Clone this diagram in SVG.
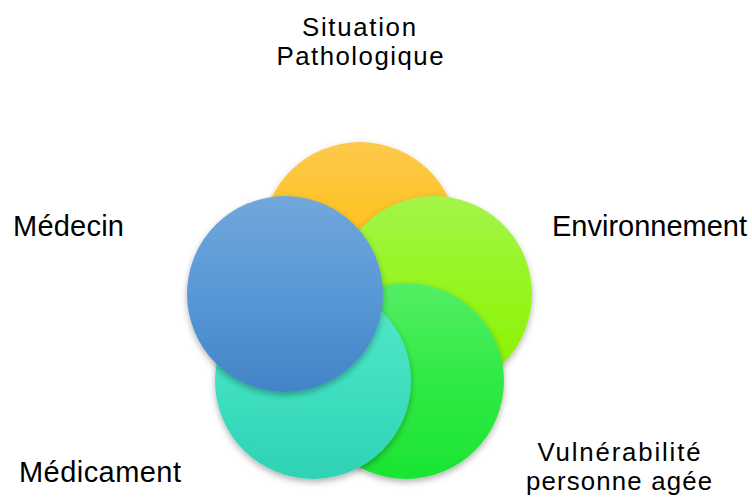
<svg xmlns="http://www.w3.org/2000/svg" width="752" height="503" viewBox="0 0 752 503">
<style>
  .lbl { font-family: "Liberation Sans", Arial, sans-serif; font-size: 29px; fill: #000; }
  .lbl2 { font-family: "Liberation Sans", Arial, sans-serif; font-size: 25.8px; fill: #000; }
</style>
<defs>
  <linearGradient id="gOrange" x1="0" y1="0" x2="0" y2="1">
    <stop offset="0" stop-color="#FEC94C"/><stop offset="0.5" stop-color="#FEC11A"/><stop offset="1" stop-color="#FDBE00"/>
  </linearGradient>
  <linearGradient id="gLime" x1="0" y1="0" x2="0" y2="1">
    <stop offset="0" stop-color="#A3F54A"/><stop offset="0.5" stop-color="#95F51C"/><stop offset="1" stop-color="#89F200"/>
  </linearGradient>
  <linearGradient id="gGreen" x1="0" y1="0" x2="0" y2="1">
    <stop offset="0" stop-color="#55EE64"/><stop offset="0.5" stop-color="#2FEA45"/><stop offset="1" stop-color="#1BE432"/>
  </linearGradient>
  <linearGradient id="gTeal" x1="0" y1="0" x2="0" y2="1">
    <stop offset="0" stop-color="#55E8C9"/><stop offset="0.5" stop-color="#40E0C1"/><stop offset="1" stop-color="#2FD2B4"/>
  </linearGradient>
  <linearGradient id="gBlue" x1="0" y1="0" x2="0" y2="1">
    <stop offset="0" stop-color="#72A7DB"/><stop offset="0.5" stop-color="#5898D6"/><stop offset="1" stop-color="#4284C6"/>
  </linearGradient>
  <filter id="shadow" x="-20%" y="-20%" width="140%" height="150%">
    <feDropShadow dx="0" dy="3" stdDeviation="3" flood-color="#000" flood-opacity="0.3"/>
  </filter>
</defs>
<g id="connectors"></g>
<g id="node-situation">
  <circle cx="360" cy="240" r="98" fill="url(#gOrange)" filter="url(#shadow)"/>
  <text class="lbl2" x="359" y="36" text-anchor="middle" textLength="114">Situation</text>
  <text class="lbl2" x="360" y="65" text-anchor="middle" textLength="167">Pathologique</text>
</g>
<g id="node-environnement">
  <circle cx="434" cy="294" r="98" fill="url(#gLime)" filter="url(#shadow)"/>
  <text class="lbl" x="552" y="236" textLength="195">Environnement</text>
</g>
<g id="node-vulnerabilite">
  <circle cx="406" cy="381" r="98" fill="url(#gGreen)" filter="url(#shadow)"/>
  <text class="lbl2" x="619" y="461" text-anchor="middle" textLength="163">Vulnérabilité</text>
  <text class="lbl2" x="619" y="490" text-anchor="middle" textLength="186">personne agée</text>
</g>
<g id="node-medicament">
  <circle cx="313" cy="381" r="98" fill="url(#gTeal)" filter="url(#shadow)"/>
  <text class="lbl" x="19" y="481.5" textLength="162">Médicament</text>
</g>
<g id="node-medecin">
  <circle cx="285" cy="294" r="98" fill="url(#gBlue)" filter="url(#shadow)"/>
  <text class="lbl" x="13" y="236" textLength="111">Médecin</text>
</g>
</svg>
